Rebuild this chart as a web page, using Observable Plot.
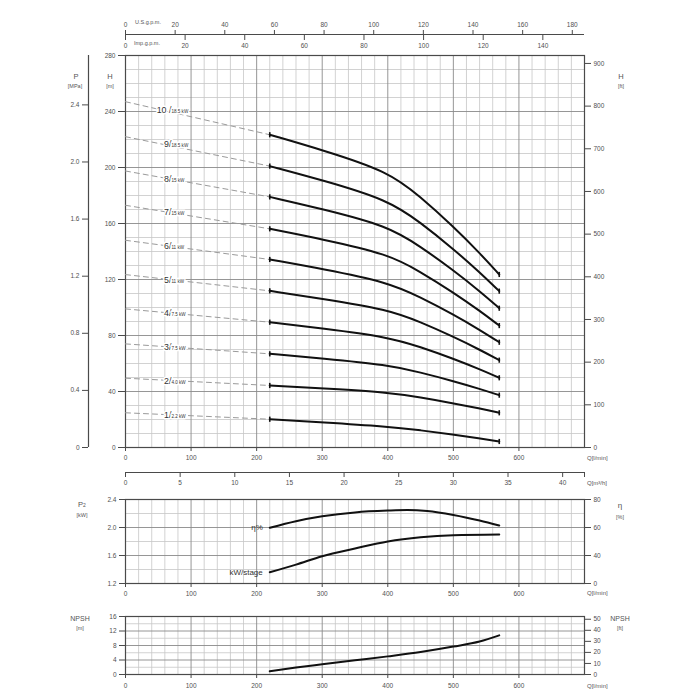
<!DOCTYPE html>
<html>
<head>
<meta charset="utf-8">
<script src="https://cdn.jsdelivr.net/npm/d3@7"></script>
<script src="https://cdn.jsdelivr.net/npm/@observablehq/plot@0.6"></script>
<style>
html,body{margin:0;padding:0;background:#fff;}
#wrap{position:relative;width:700px;height:700px;overflow:hidden;font-family:"Liberation Sans",Arial,sans-serif;color:#555;}
#wrap svg{position:absolute;left:0;top:0;}
.t{position:absolute;white-space:nowrap;transform:translate(-50%,-50%);line-height:1;}
.s{position:absolute;white-space:nowrap;transform:translate(0,-50%);line-height:1;}
</style>
</head>
<body>
<div id="wrap">
  <div class="t" style="left:76px;top:77px;font-size:7.5px">P</div>
  <div class="t" style="left:75px;top:87px;font-size:5.5px">[MPa]</div>
  <div class="t" style="left:110px;top:77px;font-size:7.5px">H</div>
  <div class="t" style="left:110px;top:87px;font-size:5.5px">[m]</div>
  <div class="t" style="left:621px;top:77px;font-size:7.5px">H</div>
  <div class="t" style="left:621px;top:87px;font-size:5.5px">[ft]</div>
  <div class="s" style="left:135px;top:23px;font-size:5.5px">U.S.g.p.m.</div>
  <div class="s" style="left:134px;top:44px;font-size:5.5px">Imp.g.p.m.</div>
  <div class="s" style="left:587px;top:458px;font-size:6px">Q[l/min]</div>
  <div class="s" style="left:587px;top:483px;font-size:6px">Q[m³/h]</div>
  <div class="t" style="left:82px;top:505px;font-size:7.5px">P<span style="font-size:5px">2</span></div>
  <div class="t" style="left:82px;top:516px;font-size:5.5px">[kW]</div>
  <div class="t" style="left:620px;top:506px;font-size:8px">η</div>
  <div class="t" style="left:620px;top:518px;font-size:5.5px">[%]</div>
  <div class="s" style="left:587px;top:593px;font-size:6px">Q[l/min]</div>
  <div class="t" style="left:80px;top:618px;font-size:7px">NPSH</div>
  <div class="t" style="left:80px;top:629px;font-size:5.5px">[m]</div>
  <div class="t" style="left:620px;top:618px;font-size:7px">NPSH</div>
  <div class="t" style="left:620px;top:629px;font-size:5.5px">[ft]</div>
  <div class="s" style="left:587px;top:686px;font-size:6px">Q[l/min]</div>
</div>
<script>
// ---------------- data ----------------
const stages = [1, 2, 3, 4, 5, 6, 7, 8, 9, 10];
const stageLabels = ["1/", "2/", "3/", "4/", "5/", "6/", "7/", "8/", "9/", "10 /"];
const motorLabels = ["2.2 kW", "4.0 kW", "7.5 kW", "7.5 kW", "11 kW", "11 kW", "15 kW", "15 kW", "18.5 kW", "18.5 kW"];
const shutoffHead = [24.8, 49.5, 74, 99, 123.5, 148, 173, 197.5, 222, 247];
const labelQ = 70;
const labelHead = [22.9, 47.1, 71.4, 95.7, 119.3, 143.6, 167.9, 191.4, 216.4, 240.7];

const qCurve = [220, 300, 400, 450, 500, 540, 570];
const headStage1 = [20.2, 18.1, 15.0, 12.3, 9.3, 6.6, 4.3];
const headStage2 = [44.3, 42.3, 39.5, 35.8, 31.6, 27.9, 24.8];
const headStage3 = [66.9, 63.6, 59.0, 53.6, 47.4, 41.9, 37.4];
const headStage4 = [89.5, 85.1, 79.0, 71.8, 63.4, 55.9, 49.8];
const headStage5 = [111.9, 106.3, 98.6, 89.6, 79.1, 69.9, 62.4];
const headStage6 = [134.3, 127.6, 118.1, 107.3, 95.0, 84.1, 75.2];
const headStage7 = [156.2, 148.8, 138.3, 125.5, 110.7, 97.7, 87.1];
const headStage8 = [179.0, 170.4, 158.3, 143.5, 126.6, 111.7, 99.5];
const headStage9 = [201.0, 191.0, 177.0, 160.7, 141.8, 125.2, 111.7];
const headStage10 = [223.4, 212.5, 197.4, 179.0, 157.8, 139.0, 123.6];
const headStages = [headStage1, headStage2, headStage3, headStage4, headStage5,
                    headStage6, headStage7, headStage8, headStage9, headStage10];

const qEta = [220, 260, 300, 350, 400, 430, 460, 500, 540, 570];
const etaPct = [59.8, 64.5, 68.0, 70.8, 72.1, 72.5, 71.8, 69.0, 65.0, 61.4];
const qPower = [220, 260, 300, 350, 400, 450, 500, 570];
const powerKw = [1.36, 1.47, 1.59, 1.70, 1.80, 1.86, 1.89, 1.90];
const qNpsh = [220, 260, 300, 350, 400, 450, 500, 540, 570];
const npshM = [0.9, 1.9, 2.8, 3.9, 5.0, 6.2, 7.7, 9.1, 10.8];

// tick labels
const qTicks = [0, 100, 200, 300, 400, 500, 600];
const hTicks = [0, 40, 80, 120, 160, 200, 240, 280];
const pTicks = [0, 0.4, 0.8, 1.2, 1.6, 2.0, 2.4];
const ftTicks = [0, 100, 200, 300, 400, 500, 600, 700, 800, 900];
const usGpmTicks = [0, 20, 40, 60, 80, 100, 120, 140, 160, 180];
const impGpmTicks = [0, 20, 40, 60, 80, 100, 120, 140];
const m3hTicks = [0, 5, 10, 15, 20, 25, 30, 35, 40];
const p2Ticks = [1.2, 1.6, 2.0, 2.4];
const etaTicks = [20, 40, 60, 80];
const etaTickLabels = ["0", "40", "60", "80"];
const npshTicks = [0, 4, 8, 12, 16];
const npshFtTicks = [0, 10, 20, 30, 40, 50];

// unit conversions (scale domains)
const Q_MAX = 700;                 // l/min
const H_MAX = 280;                 // m
const MPA_PER_M = 0.00980665;
const FT_PER_M = 1 / 0.3048;
const LPM_PER_USGPM = 3.78541;
const LPM_PER_IMPGPM = 4.54609;
const M3H_PER_LPM = 0.06;

// ---------------- tidy tables ----------------
const curveRows = [], capRows = [], dashRows = [], labelRows = [];
stages.forEach((s, i) => {
  const hs = headStages[i];
  qCurve.forEach((q, j) => curveRows.push({stage: s, q, h: hs[j]}));
  capRows.push({q: qCurve[0], h: hs[0]}, {q: qCurve[qCurve.length - 1], h: hs[hs.length - 1]});
  dashRows.push({stage: s, q: 0, h: shutoffHead[i]}, {stage: s, q: qCurve[0], h: hs[0]});
  labelRows.push({q: labelQ, h: labelHead[i], big: stageLabels[i], small: motorLabels[i]});
});
const etaRows = qEta.map((q, i) => ({q, v: etaPct[i]}));
const powerRows = qPower.map((q, i) => ({q, v: powerKw[i]}));
const npshRows = qNpsh.map((q, i) => ({q, v: npshM[i]}));

// ---------------- drawing ----------------
const wrap = document.getElementById("wrap");
const FONT = '"Liberation Sans", Arial, sans-serif';
const MINOR = "#c6c6c6", MAJOR = "#8a8a8a", FRAME = "#4a4a4a", TXT = "#505050";
function add(opts) {
  const svg = Plot.plot(Object.assign({
    width: 700, height: 700, marginLeft: 125, marginRight: 116,
    style: {background: "transparent", fontFamily: FONT, color: TXT, overflow: "visible"}
  }, opts));
  wrap.appendChild(svg);
}
const ax = {fontSize: 6.5, label: null, stroke: FRAME, fill: TXT};
const stepRange = (a, b, s) => d3.range(a, b + s / 2, s);
function grid(xMinorStep, xMajorStep, yLo, yHi, yMinorStep, yMajorStep) {
  const xs = stepRange(0, Q_MAX, xMinorStep), ys = stepRange(yLo, yHi, yMinorStep);
  const isMajor = (v, base, st) => Math.abs(((v - base) / st) - Math.round((v - base) / st)) < 1e-6;
  return [
    Plot.ruleX(xs.filter(v => !isMajor(v, 0, xMajorStep)), {stroke: MINOR, strokeWidth: 0.8}),
    Plot.ruleY(ys.filter(v => !isMajor(v, yLo, yMajorStep)), {stroke: MINOR, strokeWidth: 0.8}),
    Plot.ruleX(xs.filter(v => isMajor(v, 0, xMajorStep)), {stroke: MAJOR, strokeWidth: 0.9}),
    Plot.ruleY(ys.filter(v => isMajor(v, yLo, yMajorStep)), {stroke: MAJOR, strokeWidth: 0.9}),
    Plot.frame({stroke: FRAME, strokeWidth: 1.2})
  ];
}
const vbar = {draw(ctx, size) { const r = Math.sqrt(size / Math.PI); ctx.moveTo(0, -r); ctx.lineTo(0, r); }};

// main H–Q chart
add({
  marginTop: 55, marginBottom: 253,
  x: {domain: [0, Q_MAX]}, y: {domain: [0, H_MAX]},
  marks: [
    ...grid(20, 100, 0, H_MAX, 10, 40),
    Plot.line(dashRows, {x: "q", y: "h", z: "stage", stroke: "#9a9a9a", strokeWidth: 1, strokeDasharray: "5,4"}),
    Plot.line(curveRows, {x: "q", y: "h", z: "stage", stroke: "#111", strokeWidth: 2, curve: "basis"}),
    Plot.dot(capRows, {x: "q", y: "h", symbol: vbar, r: 2.6, stroke: "#111", strokeWidth: 1.6, fill: "none"}),
    Plot.text(labelRows, {x: "q", y: "h", text: "big", textAnchor: "end", fontSize: 8.8, fill: "#333", stroke: "white", strokeWidth: 3}),
    Plot.text(labelRows, {x: "q", y: "h", text: "small", textAnchor: "start", dy: 1, fontSize: 4.6, fill: "#333", stroke: "white", strokeWidth: 3}),
    Plot.axisY({...ax, ticks: hTicks, anchor: "left", tickSize: 7, tickPadding: 3}),
    Plot.axisX({...ax, ticks: qTicks, anchor: "bottom", tickSize: 4, tickPadding: 4})
  ]
});
// P [MPa] axis
add({
  marginTop: 55, marginBottom: 253, marginLeft: 88,
  x: {domain: [0, 1], axis: null}, y: {domain: [0, H_MAX * MPA_PER_M]},
  marks: [
    Plot.ruleX([0], {stroke: FRAME, strokeWidth: 1.2}),
    Plot.axisY({...ax, ticks: pTicks, anchor: "left", tickSize: 6, tickPadding: 3, tickFormat: d => d === 0 ? "0" : d.toFixed(1)})
  ]
});
// H [ft] axis
add({
  marginTop: 55, marginBottom: 253,
  y: {domain: [0, H_MAX * FT_PER_M]},
  marks: [Plot.axisY({...ax, ticks: ftTicks, anchor: "right", tickSize: 6, tickPadding: 3})]
});
// U.S. g.p.m. axis
add({
  marginTop: 34, marginBottom: 665,
  x: {domain: [0, Q_MAX / LPM_PER_USGPM]}, y: {domain: [0, 1], axis: null},
  marks: [
    Plot.ruleY([1], {stroke: FRAME, strokeWidth: 1.2}),
    Plot.axisX({...ax, ticks: usGpmTicks, anchor: "top", tickSize: 5, tickPadding: 3})
  ]
});
// Imp. g.p.m. axis
add({
  marginTop: 33, marginBottom: 666,
  x: {domain: [0, Q_MAX / LPM_PER_IMPGPM]},
  marks: [Plot.axisX({...ax, ticks: impGpmTicks, anchor: "bottom", tickSize: 6, tickPadding: 3})]
});
// m3/h axis
add({
  marginTop: 471, marginBottom: 228,
  x: {domain: [0, Q_MAX * M3H_PER_LPM]}, y: {domain: [0, 1], axis: null},
  marks: [
    Plot.ruleY([0], {stroke: FRAME, strokeWidth: 1.2}),
    Plot.axisX({...ax, ticks: m3hTicks, anchor: "bottom", tickSize: 5, tickPadding: 3}),
    Plot.axisX({...ax, ticks: [Q_MAX * M3H_PER_LPM], anchor: "bottom", tickSize: 5, tickFormat: () => ""})
  ]
});
// efficiency / power panel (P2 scale)
add({
  marginTop: 499, marginBottom: 117,
  x: {domain: [0, Q_MAX]}, y: {domain: [1.2, 2.4]},
  marks: [
    ...grid(20, 100, 1.2, 2.4, 0.2, 0.4),
    Plot.line(powerRows, {x: "q", y: "v", stroke: "#111", strokeWidth: 2, curve: "monotone-x"}),
    Plot.text(powerRows.slice(0, 1), {x: "q", y: "v", text: () => "kW/stage", textAnchor: "end", dx: -7, fontSize: 8, fill: "#333"}),
    Plot.axisY({...ax, ticks: p2Ticks, anchor: "left", tickSize: 6, tickPadding: 3, tickFormat: d => d.toFixed(1)}),
    Plot.axisX({...ax, ticks: qTicks, anchor: "bottom", tickSize: 4, tickPadding: 4})
  ]
});
// efficiency overlay (η scale)
add({
  marginTop: 499, marginBottom: 117,
  x: {domain: [0, Q_MAX], axis: null}, y: {domain: [20, 80]},
  marks: [
    Plot.line(etaRows, {x: "q", y: "v", stroke: "#111", strokeWidth: 2, curve: "monotone-x"}),
    Plot.text(etaRows.slice(0, 1), {x: "q", y: "v", text: () => "η%", textAnchor: "end", dx: -7, fontSize: 8, fill: "#333"}),
    Plot.axisY({...ax, ticks: etaTicks, anchor: "right", tickSize: 6, tickPadding: 3, tickFormat: d => etaTickLabels[etaTicks.indexOf(d)]})
  ]
});
// NPSH panel
add({
  marginTop: 616, marginBottom: 26,
  x: {domain: [0, Q_MAX]}, y: {domain: [0, 16]},
  marks: [
    ...grid(20, 100, 0, 16, 2, 4),
    Plot.line(npshRows, {x: "q", y: "v", stroke: "#111", strokeWidth: 2, curve: "monotone-x"}),
    Plot.axisY({...ax, ticks: npshTicks, anchor: "left", tickSize: 6, tickPadding: 3}),
    Plot.axisX({...ax, ticks: qTicks, anchor: "bottom", tickSize: 4, tickPadding: 5})
  ]
});
// NPSH [ft] axis
add({
  marginTop: 616, marginBottom: 26,
  y: {domain: [0, 16 * FT_PER_M]},
  marks: [Plot.axisY({...ax, ticks: npshFtTicks, anchor: "right", tickSize: 6, tickPadding: 3})]
});
</script>
</body>
</html>
